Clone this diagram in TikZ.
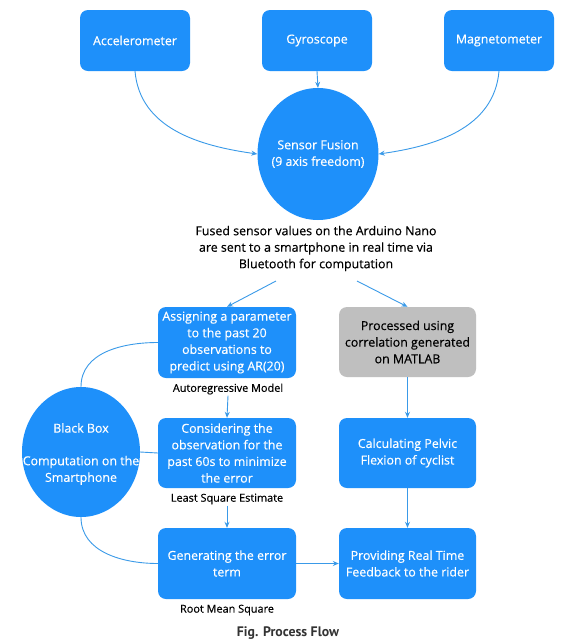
\documentclass[tikz,border=0pt]{standalone}
\usepackage{fontspec}
\setmainfont{Open Sans}[FakeBold=0.35]
\newfontfamily\capfont{PT Sans}
\usetikzlibrary{shapes.geometric,arrows.meta}
\definecolor{boxblue}{HTML}{1E90FA}
\definecolor{linkblue}{HTML}{3A9AE8}
\definecolor{boxgray}{HTML}{BFBFBF}
\definecolor{capgray}{HTML}{333333}
\tikzset{
  bluebox/.style={rectangle, rounded corners=8pt, fill=boxblue, text=white,
    minimum width=138pt, minimum height=71pt, align=center, inner sep=2pt,
    font=\fontsize{12.4}{16.6}\selectfont},
  topbox/.style={bluebox, minimum width=110pt, minimum height=61pt},
  graybox/.style={bluebox, fill=boxgray, text=black},
  bluecirc/.style={ellipse, fill=boxblue, inner sep=0pt},
  circtext/.style={text=white, align=center, inner sep=0pt,
    font=\fontsize{12.4}{16.6}\selectfont},
  lbl/.style={font=\fontsize{10.9}{12}\selectfont, text=black, inner sep=1pt},
  link/.style={draw=linkblue, line width=0.9pt},
  arr/.style={link, -{Stealth[length=6pt,width=5pt]}}
}
\begin{document}
\begin{tikzpicture}[x=1pt,y=-1pt]
\useasboundingbox[fill=white] (0,0) rectangle (572,641);
% top row
\node[topbox] (acc) at (135,40.5) {Accelerometer};
\node[topbox] (gyr) at (317,40.5) {Gyroscope};
\node[topbox] (mag) at (499,40.5) {Magnetometer};
\node[bluecirc, minimum width=121pt, minimum height=132pt] (sf) at (318,154) {};
\node[circtext] (sft) at (sf.center) {Sensor Fusion\\(9 axis freedom)};
\node[align=center, font=\fontsize{12.4}{16.5}\selectfont, inner sep=1pt] (fused) at (316,248.5)
  {Fused sensor values on the Arduino Nano\\are sent to a smartphone in real time via\\Bluetooth for computation};
% left column
\node[bluebox] (b1) at (227,342.5) {Assigning a parameter\\to the past 20\\observations to\\predict using AR(20)};
\node[lbl] (l1) at (228,389) {Autoregressive Model};
\node[bluebox, minimum height=70pt] (b2) at (227,453) {Considering the\\observation for the\\past 60s to minimize\\the error};
\node[lbl] (l2) at (227,499) {Least Square Estimate};
\node[bluebox] (b3) at (227,563.5) {Generating the error\\term};
\node[lbl] (l3) at (227,610) {Root Mean Square};
% right column
\node[graybox, minimum width=137pt, minimum height=70pt] (g) at (407.5,342) {Processed using\\correlation generated\\on MATLAB};
\node[bluebox, minimum width=137pt, minimum height=70pt] (c) at (407.5,453) {Calculating Pelvic\\Flexion of cyclist};
\node[bluebox, minimum width=137pt] (p) at (407.5,563.5) {Providing Real Time\\Feedback to the rider};
% black box
\node[bluecirc, minimum width=118pt, minimum height=130pt] (bb) at (81,452) {};
\node[circtext] (bbt) at (81,454) {Black Box\\[16pt]Computation on the\\Smartphone};
% caption
\node[font=\capfont\bfseries\fontsize{13.8}{15}\selectfont, text=capgray] (cap) at (288,633) {Fig. Process Flow};
% connectors
\coordinate (f1) at (276,281);
\coordinate (f2) at (357,281);
\draw[arr] (gyr.south) -- (sf.north);
\draw[arr] (acc.south) to[out=-85,in=172] (sf.west);
\draw[arr] (mag.south) to[out=-95,in=8] (sf.east);
\draw[arr] (f1) -- (b1.north);
\draw[arr] (f2) -- (g.north);
\draw[arr] (l1.south) -- (b2.north);
\draw[arr] (l2.south) -- (b3.north);
\draw[arr] (g.south) -- (c.north);
\draw[arr] (c.south) -- (p.north);
\draw[arr] (b3.east) -- (p.west);
\draw[link] (bb.north) to[out=90,in=180] (b1.west);
\draw[link] (bb.east) -- (b2.west);
\draw[link] (bb.south) to[out=-90,in=180] (b3.west);
\end{tikzpicture}
\end{document}
